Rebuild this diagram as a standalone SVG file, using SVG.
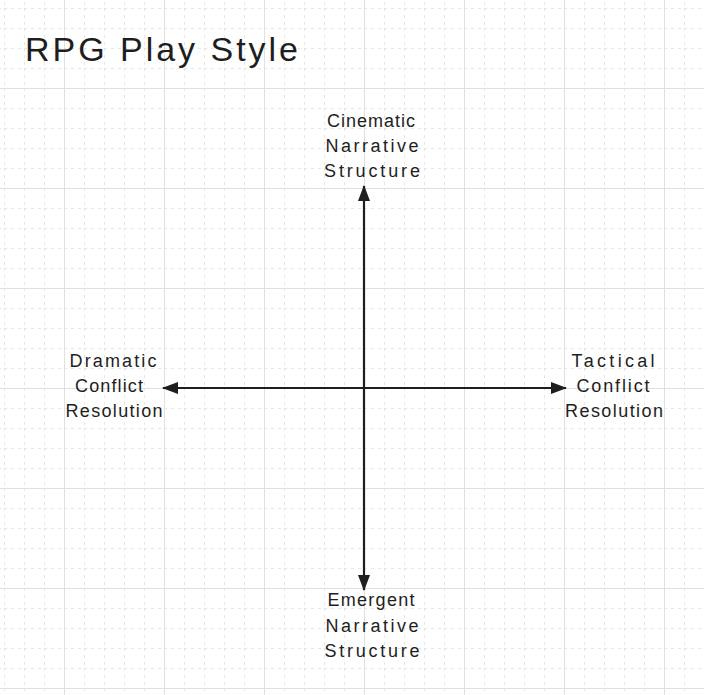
<svg xmlns="http://www.w3.org/2000/svg" width="704" height="695" viewBox="0 0 704 695">
<defs>
<style>
.minor{stroke:#e6e6e6;stroke-width:1;stroke-dasharray:3 4;fill:none}
.major{stroke:#e0e0e0;stroke-width:1;fill:none}
.lbl{font-family:"Liberation Sans",Arial,sans-serif;font-size:18px;fill:#1e1e1e;text-anchor:middle}
.title{font-family:"Liberation Sans",Arial,sans-serif;font-size:34px;fill:#1e1e1e}
.axis{stroke:#1e1e1e;stroke-width:2.2;fill:none}
</style>
<marker id="ah" viewBox="0 0 16 12" refX="15" refY="6" markerWidth="16" markerHeight="12" markerUnits="userSpaceOnUse" orient="auto-start-reverse">
<path d="M0,0 L16,6 L0,12 Z" fill="#1e1e1e"/>
</marker>
<pattern id="minorGrid" x="4" y="8" width="20" height="20" patternUnits="userSpaceOnUse">
<line class="minor" x1="0.5" y1="0" x2="0.5" y2="20"/>
<line class="minor" x1="0" y1="0.5" x2="20" y2="0.5"/>
</pattern>
<pattern id="majorGrid" x="64" y="88" width="100" height="100" patternUnits="userSpaceOnUse">
<line class="major" x1="0.5" y1="0" x2="0.5" y2="100"/>
<line class="major" x1="0" y1="0.5" x2="100" y2="0.5"/>
</pattern>
</defs>
<rect width="704" height="695" fill="#ffffff"/>
<g id="grid">
<rect width="704" height="695" fill="url(#minorGrid)"/>
<rect width="704" height="695" fill="url(#majorGrid)"/>
</g>
<g id="title">
<text class="title" x="25" y="61" textLength="273" lengthAdjust="spacing">RPG Play Style</text>
</g>
<g id="connectors">
<line class="axis" x1="364" y1="186" x2="364" y2="590" marker-start="url(#ah)" marker-end="url(#ah)"/>
<line class="axis" x1="163" y1="388" x2="566" y2="388" marker-start="url(#ah)" marker-end="url(#ah)"/>
</g>
<g id="node-top">
<text class="lbl" x="371" y="127" textLength="88" lengthAdjust="spacing">Cinematic</text>
<text class="lbl" x="372" y="152" textLength="93" lengthAdjust="spacing">Narrative</text>
<text class="lbl" x="372" y="177" textLength="96" lengthAdjust="spacing">Structure</text>
</g>
<g id="node-left">
<text class="lbl" x="113" y="367" textLength="87" lengthAdjust="spacing">Dramatic</text>
<text class="lbl" x="109" y="392" textLength="68" lengthAdjust="spacing">Conflict</text>
<text class="lbl" x="114" y="417" textLength="97" lengthAdjust="spacing">Resolution</text>
</g>
<g id="node-right">
<text class="lbl" x="613" y="367" textLength="83" lengthAdjust="spacing">Tactical</text>
<text class="lbl" x="613" y="392" textLength="73" lengthAdjust="spacing">Conflict</text>
<text class="lbl" x="614" y="417" textLength="98" lengthAdjust="spacing">Resolution</text>
</g>
<g id="node-bottom">
<text class="lbl" x="371" y="606" textLength="87" lengthAdjust="spacing">Emergent</text>
<text class="lbl" x="372" y="632" textLength="93" lengthAdjust="spacing">Narrative</text>
<text class="lbl" x="372" y="657" textLength="95" lengthAdjust="spacing">Structure</text>
</g>
</svg>
